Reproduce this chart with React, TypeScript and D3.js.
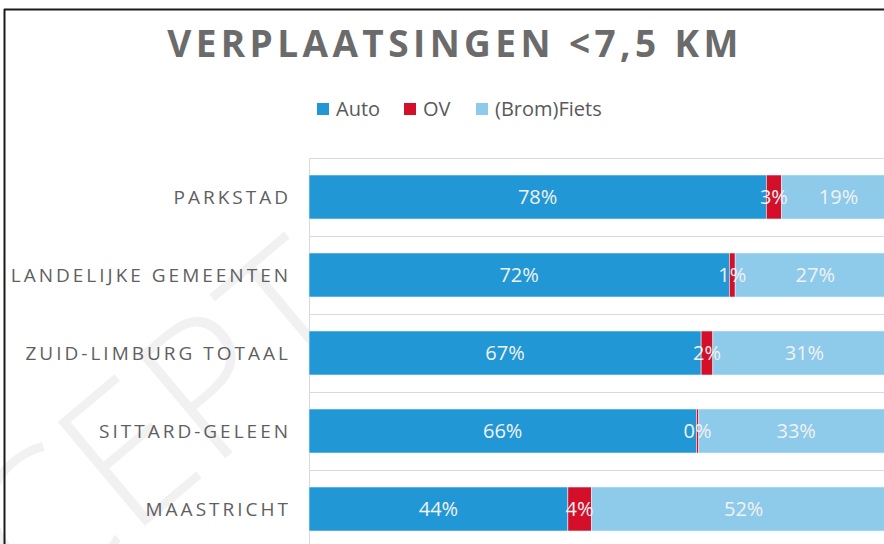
import React from "react";
import * as d3 from "d3";

const categories = ["PARKSTAD", "LANDELIJKE GEMEENTEN", "ZUID-LIMBURG TOTAAL", "SITTARD-GELEEN", "MAASTRICHT"];
const seriesNames = ["Auto", "OV", "(Brom)Fiets"];
const autoValues = [77.9, 71.6, 66.8, 66, 44.1];
const ovValues = [2.6, 1, 2, 0.4, 4];
const fietsValues = [19.4, 27.3, 31.2, 33.2, 51.9];
const colors = ["#2198D5", "#D30F2A", "#8ECAEA"];
const title = "VERPLAATSINGEN <7,5 KM";

export default function App() {
  const W = 884, H = 544;
  const x = d3.scaleLinear().domain([0, 100]).range([309, 896]);
  const y = d3.scaleBand<string>().domain(categories).range([158, 548]).paddingInner(0.436).paddingOuter(0.218);
  const step = y.step();
  const rows = categories.map((c, i) => ({ cat: c, Auto: autoValues[i], OV: ovValues[i], "(Brom)Fiets": fietsValues[i] }));
  const stack = d3.stack<any>().keys(seriesNames)(rows);
  const font = "'Open Sans', 'Segoe UI', sans-serif";
  const legendX = [317, 404, 476];

  return (
    <div style={{ position: "absolute", left: 0, top: 0 }}>
      <svg width={W} height={H} style={{ display: "block", background: "#fff" }}>
        {/* watermark */}
        <text x={372} y={335} transform="rotate(-40 372 335)" textAnchor="end" fontFamily={font} fontWeight={300}
          fontSize={190} fill="#f1f1f1">CONCEPT</text>
        {/* frame */}
        <line x1={4} x2={W} y1={9.5} y2={9.5} stroke="#1a1a1a" strokeWidth={2} />
        <line x1={4.5} x2={4.5} y1={9} y2={H} stroke="#1a1a1a" strokeWidth={2} />
        {/* title */}
        <text x={455} y={57} textAnchor="middle" fontFamily={font} fontWeight={700} fontSize={37}
          letterSpacing={4.4} fill="#6b6b6b">{title}</text>
        {/* legend */}
        {seriesNames.map((s, i) => (
          <g key={s}>
            <rect x={legendX[i]} y={103} width={12} height={12} fill={colors[i]} />
            <text x={legendX[i] + 19} y={115.5} fontFamily={font} fontSize={20} fill="#595959">{s}</text>
          </g>
        ))}
        {/* gridlines */}
        {d3.range(categories.length + 1).map((i) => (
          <line key={i} x1={309} x2={W} y1={158.5 + i * step} y2={158.5 + i * step} stroke="#d9d9d9" strokeWidth={1} />
        ))}
        <line x1={309.5} x2={309.5} y1={158} y2={H} stroke="#d9d9d9" strokeWidth={1} />
        {/* bars */}
        {stack.map((layer, si) => (
          <g key={layer.key}>
            {layer.map((d, i) => (
              <rect key={i} x={x(d[0])} y={y(categories[i])!} width={x(d[1]) - x(d[0])} height={y.bandwidth()}
                fill={colors[si]} stroke="#e8f2fa" strokeWidth={0.6} />
            ))}
          </g>
        ))}
        {/* value labels */}
        {stack.map((layer) => (
          <g key={layer.key + "l"}>
            {layer.map((d, i) => (
              <text key={i} x={(x(d[0]) + x(d[1])) / 2} y={y(categories[i])! + y.bandwidth() / 2 + 7}
                textAnchor="middle" fontFamily={font} fontSize={20} fill="#f2f2f2">
                {Math.round(d[1] - d[0]) + "%"}
              </text>
            ))}
          </g>
        ))}
        {/* category labels */}
        {categories.map((c) => (
          <text key={c} x={291} y={y(c)! + y.bandwidth() / 2 + 7} textAnchor="end" fontFamily={font} fontSize={19}
            letterSpacing={3} fill="#5f5f5f">{c}</text>
        ))}
      </svg>
    </div>
  );
}
